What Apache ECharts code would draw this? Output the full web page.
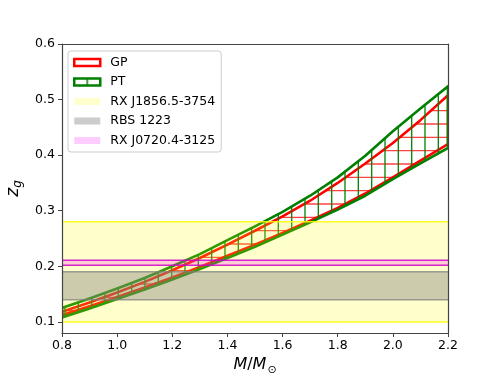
<!DOCTYPE html>
<html>
<head>
<meta charset="utf-8">
<script src="https://cdn.jsdelivr.net/npm/echarts@6/dist/echarts.min.js"></script>
<style>
  html, body { margin: 0; padding: 0; background: #fff; }
  #main { width: 498px; height: 374px; }
</style>
</head>
<body>
<div id="main"></div>
<script>
// mass grid (M / M_sun)
const mass = [0.8, 0.9, 1.0, 1.1, 1.2, 1.3, 1.4, 1.5, 1.6, 1.7, 1.8, 1.9, 2.0, 2.1, 2.2]
// GP band
const gpUpper = [0.118, 0.135, 0.153, 0.172, 0.193, 0.215, 0.239, 0.264, 0.290, 0.318, 0.350, 0.385, 0.422, 0.463, 0.508]
const gpLower = [0.112, 0.128, 0.145, 0.162, 0.180, 0.199, 0.219, 0.239, 0.260, 0.282, 0.305, 0.331, 0.360, 0.390, 0.420]
// PT band
const ptUpper = [0.125, 0.142, 0.160, 0.179, 0.200, 0.222, 0.247, 0.272, 0.298, 0.327, 0.360, 0.399, 0.443, 0.484, 0.524]
const ptLower = [0.108, 0.124, 0.141, 0.158, 0.176, 0.195, 0.215, 0.235, 0.257, 0.279, 0.302, 0.327, 0.357, 0.385, 0.413]
// observed redshift ranges
const bandNames = ['RX J1856.5-3754', 'RBS 1223', 'RX J0720.4-3125']
const bandLow = [0.10, 0.14, 0.202]
const bandHigh = [0.28, 0.19, 0.211]
// ticks
const xTicks = [0.8, 1.0, 1.2, 1.4, 1.6, 1.8, 2.0, 2.2]
const yTicks = [0.1, 0.2, 0.3, 0.4, 0.5, 0.6]

const bandFill = ['rgba(255,255,0,0.2)', 'rgba(128,128,128,0.4)', 'rgba(255,0,255,0.2)']
const bandEdge = ['rgba(255,255,0,0.85)', 'rgba(128,128,128,0.75)', 'rgba(204,0,204,0.85)']

const FONT = 'DejaVu Sans'

// hatch tiles, period ~13.3px
function hatch(dir, color, width) {
    const c = document.createElement('canvas')
    c.width = 40
    c.height = 40
    const ctx = c.getContext('2d')
    ctx.strokeStyle = color
    ctx.lineWidth = width
    const offs = dir === 'h' ? [4, 17.33, 30.67] : [11.7, 25, 38.3]
    offs.forEach(o => {
        ctx.beginPath()
        if (dir === 'h') { ctx.moveTo(0, o); ctx.lineTo(40, o) }
        else { ctx.moveTo(o, 0); ctx.lineTo(o, 40) }
        ctx.stroke()
    })
    return { image: c, repeat: 'repeat' }
}

function legendHatch() {
    const c = document.createElement('canvas')
    c.width = 26
    c.height = 20
    const ctx = c.getContext('2d')
    ctx.fillStyle = '#fff'
    ctx.fillRect(0, 0, 26, 20)
    ctx.strokeStyle = 'green'
    ctx.lineWidth = 1.5
    ctx.beginPath()
    ctx.moveTo(13, 0)
    ctx.lineTo(13, 20)
    ctx.stroke()
    return { image: c, repeat: 'repeat' }
}

const gpHatch = hatch('h', 'rgba(255,0,0,0.75)', 1.3)
const ptHatch = hatch('v', 'green', 1.3)

const bandSeries = (lower, upper, name, fill, edge, z) => ({
    type: 'custom',
    name: name,
    clip: true,
    z: z,
    data: [[mass[0], lower[0]]],
    renderItem: (params, api) => {
        const top = mass.map((m, i) => api.coord([m, upper[i]]))
        const bot = mass.map((m, i) => api.coord([m, lower[i]])).reverse()
        return {
            type: 'polygon',
            shape: { points: top.concat(bot) },
            style: { fill: fill, stroke: edge, lineWidth: 2.6, lineJoin: 'round' }
        }
    }
})

const obsSeries = bandNames.map((name, i) => ({
    type: 'custom',
    name: name,
    clip: true,
    z: 5,
    data: [[bandLow[i], bandHigh[i]]],
    renderItem: (params, api) => {
        const cs = params.coordSys
        const yTop = api.coord([mass[0], api.value(1)])[1]
        const yBot = api.coord([mass[0], api.value(0)])[1]
        return {
            type: 'group',
            children: [
                { type: 'rect', shape: { x: cs.x, y: yTop, width: cs.width, height: yBot - yTop }, style: { fill: bandFill[i] } },
                { type: 'line', shape: { x1: cs.x, y1: yTop, x2: cs.x + cs.width, y2: yTop }, style: { stroke: bandEdge[i], lineWidth: 1.5 } },
                { type: 'line', shape: { x1: cs.x, y1: yBot, x2: cs.x + cs.width, y2: yBot }, style: { stroke: bandEdge[i], lineWidth: 1.5 } }
            ]
        }
    }
}))

const mChart = echarts.init(document.getElementById('main'), null, { renderer: 'canvas' })

const spine = { show: true, lineStyle: { color: '#444', width: 1.2 } }
const tickLabel = { color: '#000', fontFamily: FONT, fontSize: 12.5 }

const options = {
    animation: false,
    backgroundColor: '#fff',
    grid: { left: 62, right: 50, top: 44, bottom: 41, containLabel: false, outerBoundsMode: 'none' },
    legend: {
        orient: 'vertical',
        left: 68,
        top: 51,
        z: 20,
        padding: [5, 6, 5, 5],
        itemGap: 6.5,
        itemWidth: 26,
        itemHeight: 7,
        selectedMode: false,
        backgroundColor: 'rgba(255,255,255,0.8)',
        borderColor: '#ccc',
        borderWidth: 1,
        borderRadius: 3,
        textStyle: { color: '#000', fontFamily: FONT, fontSize: 12.5, padding: [0, 0, 0, 5] },
        data: [
            { name: 'GP', icon: 'rect', itemStyle: { color: '#fff', borderColor: 'red', borderWidth: 2.5 } },
            { name: 'PT', icon: 'rect', itemStyle: { color: legendHatch(), borderColor: 'green', borderWidth: 2.5 } },
            { name: bandNames[0], icon: 'rect', itemStyle: { color: bandFill[0], borderWidth: 0 } },
            { name: bandNames[1], icon: 'rect', itemStyle: { color: bandFill[1], borderWidth: 0 } },
            { name: bandNames[2], icon: 'rect', itemStyle: { color: bandFill[2], borderWidth: 0 } }
        ]
    },
    xAxis: [
        {
            type: 'value',
            min: 0.8,
            max: 2.2,
            z: 10,
            splitLine: { show: false },
            axisLine: spine,
            axisTick: { show: true, length: 4, lineStyle: { color: '#444' }, customValues: xTicks },
            axisLabel: { ...tickLabel, margin: 6, customValues: xTicks, formatter: v => v.toFixed(1) },
            name: '{i|M}{n|/}{i|M}{s|⊙}',
            nameLocation: 'middle',
            nameGap: 18,
            nameTextStyle: {
                color: '#000',
                rich: {
                    i: { fontFamily: FONT, fontStyle: 'italic', fontSize: 16, color: '#000' },
                    n: { fontFamily: FONT, fontSize: 16, color: '#000' },
                    s: { fontFamily: FONT, fontSize: 11, color: '#000', padding: [10, 0, 0, 1] }
                }
            }
        },
        {
            type: 'value', position: 'top', min: 0.8, max: 2.2, z: 10,
            axisLine: spine, axisTick: { show: false }, axisLabel: { show: false }, splitLine: { show: false }
        }
    ],
    yAxis: [
        {
            type: 'value',
            min: 0.08,
            max: 0.6,
            z: 10,
            splitLine: { show: false },
            axisLine: spine,
            axisTick: { show: true, length: 4, lineStyle: { color: '#444' }, customValues: yTicks },
            axisLabel: { ...tickLabel, margin: 7, customValues: yTicks, formatter: v => v.toFixed(1) },
            name: '{i|z}{s|g}',
            nameLocation: 'middle',
            nameGap: 31,
            nameTextStyle: {
                color: '#000',
                rich: {
                    i: { fontFamily: FONT, fontStyle: 'italic', fontSize: 17, color: '#000' },
                    s: { fontFamily: FONT, fontStyle: 'italic', fontSize: 12, color: '#000', padding: [10, 0, 0, 0] }
                }
            }
        },
        {
            type: 'value', position: 'right', min: 0.08, max: 0.6, z: 10,
            axisLine: spine, axisTick: { show: false }, axisLabel: { show: false }, splitLine: { show: false }
        }
    ],
    series: [
        bandSeries(gpLower, gpUpper, 'GP', gpHatch, 'red', 2),
        bandSeries(ptLower, ptUpper, 'PT', ptHatch, 'green', 3),
        ...obsSeries
    ]
}

mChart.setOption(options)
</script>
</body>
</html>
